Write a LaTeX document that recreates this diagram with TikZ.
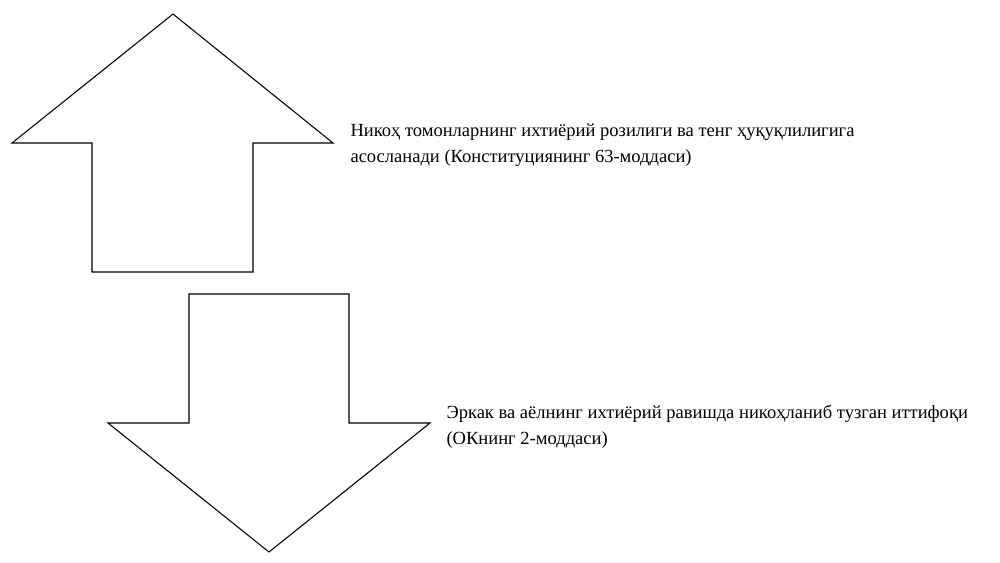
\documentclass[tikz,border=0pt]{standalone}
\usepackage{fontspec}
\setmainfont{Liberation Serif}
\usepackage{xcolor}
\usepackage{tikz}

\begin{document}
\begin{tikzpicture}[x=0.75pt,y=-0.75pt,line width=0.8pt,
  note/.style={anchor=base west, inner sep=0pt, align=left,
    font=\fontsize{13.9}{19.5}\selectfont}]
\useasboundingbox (0,0) rectangle (1000,562);

% Up arrow
\draw (173,14) -- (333,143) -- (253,143) -- (253,272) -- (92,272)
  -- (92,143) -- (12,143) -- cycle;

% Down arrow
\draw (269,552) -- (430,423) -- (349,423) -- (349,294) -- (189,294)
  -- (189,423) -- (108,423) -- cycle;

% Texts (base = last line)
\node[note] (upText) at (350,162) {Никоҳ томонларнинг ихтиёрий розилиги ва тенг ҳуқуқлилигига\\асосланади (Конституциянинг 63-моддаси)};
\node[note] (downText) at (446,444) {Эркак ва аёлнинг ихтиёрий равишда никоҳланиб тузган иттифоқи\\(ОКнинг 2-моддаси)};

\end{tikzpicture}
\end{document}
